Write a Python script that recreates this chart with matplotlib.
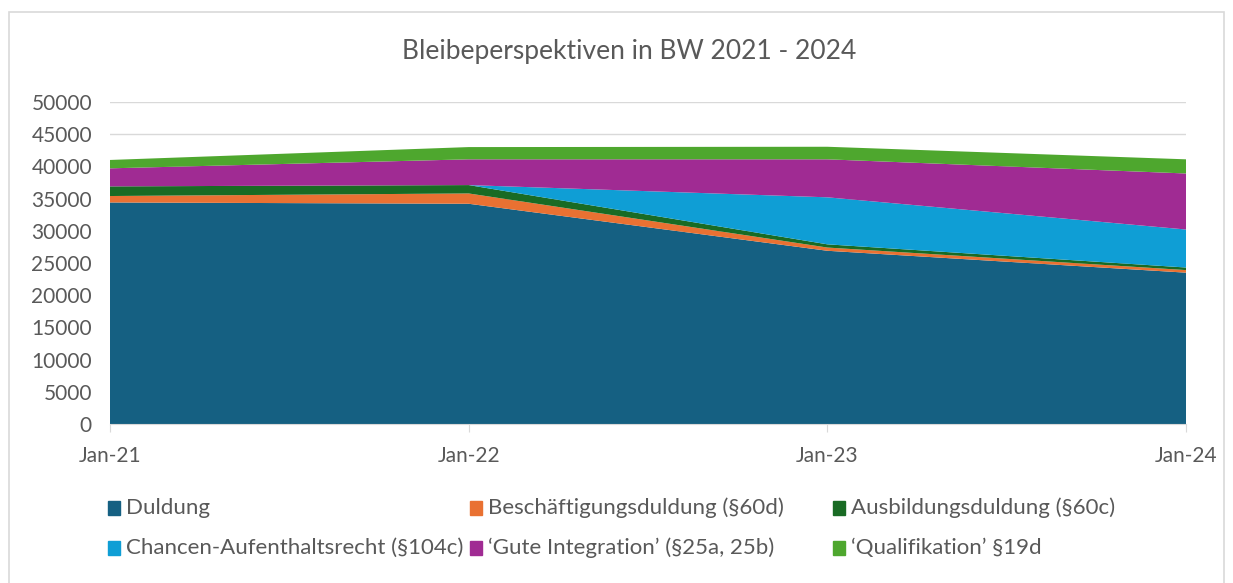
import matplotlib.pyplot as plt
from matplotlib.patches import Rectangle

# Data
dates = ["Jan-21", "Jan-22", "Jan-23", "Jan-24"]
duldung = [34400, 34200, 26900, 23500]
beschaeftigung = [1000, 1600, 500, 400]
ausbildung = [1500, 1300, 500, 400]
chancen = [0, 0, 7300, 5900]
gute_integration = [2800, 4000, 5900, 8700]
qualifikation = [1300, 1900, 1950, 2200]

labels = [
    "Duldung",
    "Beschäftigungsduldung (§60d)",
    "Ausbildungsduldung (§60c)",
    "Chancen-Aufenthaltsrecht (§104c)",
    "\u2018Gute Integration\u2019 (§25a, 25b)",
    "\u2018Qualifikation\u2019 §19d",
]
colors = ["#156082", "#E97132", "#196B24", "#0F9ED5", "#A02B93", "#4EA72E"]

plt.rcParams["font.family"] = ["Lato", "DejaVu Sans"]
text_color = "#595959"

fig = plt.figure(figsize=(12.33, 5.83), dpi=100)
ax = fig.add_axes([110 / 1233, 1 - 424 / 583, 1076 / 1233, 322 / 583])

x = list(range(len(dates)))
ax.stackplot(x, duldung, beschaeftigung, ausbildung, chancen,
             gute_integration, qualifikation, colors=colors, labels=labels)

ax.set_xlim(0, 3)
ax.set_ylim(0, 50000)
ax.set_yticks(range(0, 50001, 5000))
ax.set_xticks(x)
ax.set_xticklabels(dates)
ax.grid(axis="y", color="#d9d9d9", linewidth=1)
ax.set_axisbelow(True)
for side in ["top", "right", "left"]:
    ax.spines[side].set_visible(False)
ax.spines["bottom"].set_color("#d9d9d9")
ax.tick_params(axis="y", length=0, pad=13, labelsize=15, labelcolor=text_color)
ax.tick_params(axis="x", length=6, color="#d9d9d9", pad=10, labelsize=15,
               labelcolor=text_color)

fig.text(629 / 1233, 1 - 51 / 583, "Bleibeperspektiven in BW 2021 - 2024",
         ha="center", va="center", fontsize=19, color=text_color)

# legend, laid out like the original (3 columns, 2 rows)
col_x = [108, 470, 833]
row_y = [508, 548]
for i, (lab, col) in enumerate(zip(labels, colors)):
    px = col_x[i % 3]
    py = row_y[i // 3]
    fig.patches.append(Rectangle((px / 1233, 1 - (py + 7) / 583), 12 / 1233, 14 / 583,
                                 transform=fig.transFigure, color=col))
    fig.text((px + 18) / 1233, 1 - py / 583, lab, ha="left", va="center",
             fontsize=16, color=text_color)

# outer chart border
fig.patches.append(Rectangle((9 / 1233, -0.01), 1215 / 1233, 1 - 12 / 583 + 0.01,
                             transform=fig.transFigure, fill=False,
                             edgecolor="#d9d9d9", linewidth=1.2))

fig.savefig("out.png", dpi=100)
